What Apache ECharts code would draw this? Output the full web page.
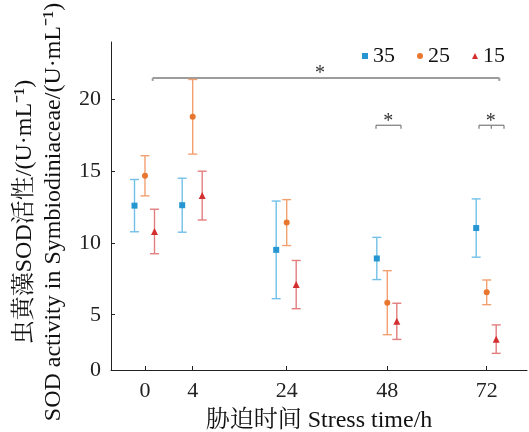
<!DOCTYPE html>
<html>
<head>
<meta charset="utf-8">
<script src="https://cdn.jsdelivr.net/npm/echarts@6/dist/echarts.min.js"></script>
<style>
  html, body { margin: 0; padding: 0; background: #fff; }
  #main { width: 529px; height: 432px; }
</style>
</head>
<body>
<div id="main"></div>
<script>
// 胁迫时间 (h)
var times = ['0', '4', '24', '48', '72']
// 温度组
var groups = ['35', '25', '15']
// 均值
var mean35 = [12.6, 12.63, 9.52, 8.92, 11.04]
var mean25 = [14.68, 18.79, 11.42, 5.84, 6.56]
var mean15 = [10.8, 13.3, 7.1, 4.54, 3.3]
// 误差 (±)
var err35 = [1.82, 1.88, 3.4, 1.47, 2.03]
var err25 = [1.4, 2.6, 1.6, 2.23, 0.86]
var err15 = [1.55, 1.7, 1.68, 1.26, 0.99]
// y 轴刻度
var yTicks = [5, 10, 15, 20]

var FONT = "'Liberation Serif', 'Noto Serif CJK SC', 'Noto Sans CJK SC', serif"
// 横轴上每个时间点的位置 (不等距)
var xAt = [0, 0.477, 1.417, 2.423, 3.417]
var xMin = -0.34, xMax = 3.82
var yMin = 1.15, yMax = 24

var colors = ['#2596d1', '#e8762f', '#d42f2f']
var barColors = ['#72c0e8', '#f2a070', '#e37e7e']
var symbols = ['rect', 'circle', 'triangle']
var sizes = [6, 6, 7]
var dodge = [-10.5, 0, 9.5]
var means = [mean35, mean25, mean15]
var errs = [err35, err25, err15]

// 显著性标注
var bracketFrom = [0.077, 2.31, 3.34]
var bracketTo = [3.543, 2.56, 3.59]
var bracketY = [21.5, 18.2, 18.2]
var bracketMid = [null, null, 3.463]
var starAt = [1.75, 2.433, 3.457]

var chart = echarts.init(document.getElementById('main'), null, { renderer: 'canvas' })

function errorBar(dx, color) {
  return function (params, api) {
    var x = api.value(0)
    var lo = api.coord([x, api.value(1)])
    var hi = api.coord([x, api.value(2)])
    var cx = lo[0] + dx
    var w = 4.5
    var st = { stroke: color, lineWidth: 1.4, fill: null }
    return {
      type: 'group',
      children: [
        { type: 'line', shape: { x1: cx, y1: hi[1], x2: cx, y2: lo[1] }, style: st },
        { type: 'line', shape: { x1: cx - w, y1: hi[1], x2: cx + w, y2: hi[1] }, style: st },
        { type: 'line', shape: { x1: cx - w, y1: lo[1], x2: cx + w, y2: lo[1] }, style: st }
      ]
    }
  }
}

function bracketItem(params, api) {
  var i = params.dataIndex
  var a = api.coord([api.value(0), api.value(2)])
  var b = api.coord([api.value(1), api.value(2)])
  var s = api.coord([api.value(3), api.value(2)])
  var big = i === 0
  var st = { stroke: big ? '#9c9c9c' : '#7a7a7a', lineWidth: big ? 2 : 1.2, fill: null }
  var d = big ? 3 : 3.5
  var kids = [
    { type: 'line', shape: { x1: a[0], y1: a[1], x2: b[0], y2: b[1] }, style: st },
    { type: 'line', shape: { x1: a[0], y1: a[1], x2: a[0], y2: a[1] + d }, style: st },
    { type: 'line', shape: { x1: b[0], y1: b[1], x2: b[0], y2: b[1] + d }, style: st },
    {
      type: 'text',
      style: {
        text: '*', x: s[0], y: s[1] - 4, fill: '#333',
        font: '20px ' + FONT, textAlign: 'center', textVerticalAlign: 'middle'
      }
    }
  ]
  if (bracketMid[i] != null) {
    var m = api.coord([bracketMid[i], api.value(2)])
    kids.push({ type: 'line', shape: { x1: m[0], y1: m[1], x2: m[0], y2: m[1] + d }, style: st })
  }
  return { type: 'group', children: kids }
}

var series = []
groups.forEach(function (g, k) {
  series.push({
    type: 'custom',
    renderItem: errorBar(dodge[k], barColors[k]),
    encode: { x: 0, y: [1, 2] },
    data: times.map(function (t, i) {
      return [xAt[i], means[k][i] - errs[k][i], means[k][i] + errs[k][i]]
    }),
    silent: true,
    z: 2
  })
})
groups.forEach(function (g, k) {
  series.push({
    name: g,
    type: 'scatter',
    symbol: symbols[k],
    symbolSize: sizes[k],
    symbolOffset: [dodge[k], 0],
    itemStyle: { color: colors[k], opacity: 1 },
    data: times.map(function (t, i) { return [xAt[i], means[k][i]] }),
    z: 3
  })
})
series.push({
  type: 'custom',
  renderItem: bracketItem,
  encode: { x: [0, 1], y: 2 },
  data: bracketFrom.map(function (f, i) { return [f, bracketTo[i], bracketY[i], starAt[i]] }),
  silent: true,
  z: 1
})

var option = {
  animation: false,
  backgroundColor: '#fff',
  textStyle: { fontFamily: FONT },
  grid: { left: 111, right: 2, top: 42, bottom: 62, containLabel: false, outerBoundsMode: 'none' },
  legend: {
    data: groups,
    left: 357,
    top: 40,
    itemWidth: 6,
    itemHeight: 6,
    itemGap: 22,
    textStyle: { fontFamily: FONT, fontSize: 22, color: '#111' }
  },
  xAxis: {
    type: 'value',
    min: xMin,
    max: xMax,
    name: '胁迫时间 Stress time/h',
    nameLocation: 'middle',
    nameGap: 39,
    nameTextStyle: { fontFamily: FONT, fontSize: 24, color: '#111' },
    axisLine: { onZero: false, lineStyle: { color: '#222', width: 1 } },
    axisTick: { inside: true, length: 4, customValues: xAt, lineStyle: { color: '#222' } },
    axisLabel: {
      customValues: xAt,
      margin: 10,
      fontFamily: FONT, fontSize: 22, color: '#222',
      formatter: function (v) {
        var i = xAt.indexOf(v)
        return i >= 0 ? times[i] : ''
      }
    },
    splitLine: { show: false }
  },
  yAxis: {
    type: 'value',
    min: yMin,
    max: yMax,
    name: '虫黄藻SOD活性/(U·mL⁻¹)\nSOD activity in Symbiodiniaceae/(U·mL⁻¹)',
    nameLocation: 'middle',
    nameRotate: 90,
    nameGap: 37,
    nameTextStyle: { fontFamily: FONT, fontSize: 24, lineHeight: 29, color: '#111', padding: [0, 12, 0, 0] },
    axisLine: { show: true, onZero: false, lineStyle: { color: '#222', width: 1 } },
    axisTick: { show: true, inside: true, length: 4, customValues: [yMin].concat(yTicks), lineStyle: { color: '#222' } },
    axisLabel: {
      customValues: [yMin].concat(yTicks),
      margin: 10,
      fontFamily: FONT, fontSize: 22, color: '#222',
      formatter: function (v) { return v < 2 ? '0' : String(v) }
    },
    splitLine: { show: false }
  },
  series: series
}

chart.setOption(option)
</script>
</body>
</html>
